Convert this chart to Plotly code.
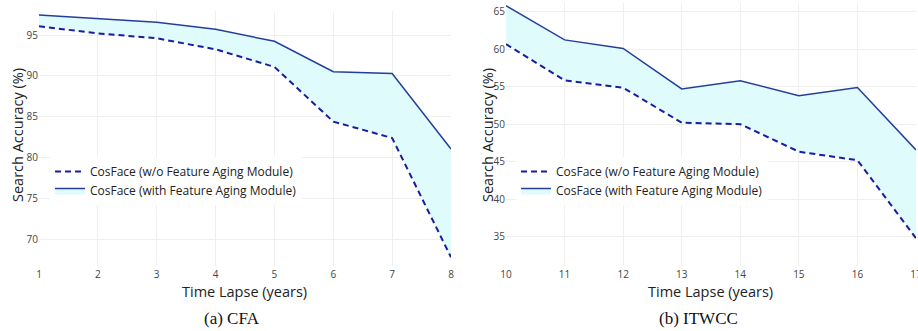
import plotly.graph_objects as go

# ---- data ----
cfa_years = [1, 2, 3, 4, 5, 6, 7, 8]
cfa_without = [96.07, 95.2, 94.6, 93.25, 91.1, 84.4, 82.4, 67.8]
cfa_with = [97.45, 96.96, 96.55, 95.7, 94.23, 90.5, 90.3, 81.05]

itwcc_years = [10, 11, 12, 13, 14, 15, 16, 17]
itwcc_without = [60.67, 55.85, 54.87, 50.2, 50.0, 46.33, 45.2, 34.8]
itwcc_with = [65.8, 61.24, 60.1, 54.7, 55.8, 53.8, 54.9, 46.57]

name_without = "CosFace (w/o Feature Aging Module)"
name_with = "CosFace (with Feature Aging Module)"
captions = ["(a) CFA", "(b) ITWCC"]
x_title = "Time Lapse (years)"
y_title = "Search Accuracy (%)"

DASH_COLOR = "#1b1ba4"
SOLID_COLOR = "#233f9c"
FILL_COLOR = "rgba(224,251,252,1)"

W, H = 918, 331
fig = go.Figure()

panels = [
    (cfa_years, cfa_without, cfa_with, "x", "y", "legend"),
    (itwcc_years, itwcc_without, itwcc_with, "x2", "y2", "legend2"),
]
for yrs, wo, wi, xa, ya, lg in panels:
    fig.add_trace(go.Scatter(x=yrs, y=wo, mode="lines", name=name_without,
                             line=dict(color=DASH_COLOR, width=2, dash="6px,4px"),
                             xaxis=xa, yaxis=ya, legend=lg))
    fig.add_trace(go.Scatter(x=yrs, y=wi, mode="lines", name=name_with,
                             line=dict(color=SOLID_COLOR, width=1.5),
                             fill="tonexty", fillcolor=FILL_COLOR,
                             xaxis=xa, yaxis=ya, legend=lg))

def px(x):
    return x / W

def py(y):
    return 1 - y / H

tick_font = dict(family="Open Sans, sans-serif", size=10, color="#444")
grid = "#efefef"

common_x = dict(showgrid=True, gridcolor=grid, zeroline=False, showline=False,
                ticks="", tickfont=tick_font, dtick=1, automargin=False,
                ticklabelstandoff=1, ticklabeloverflow="allow")
common_y = dict(showgrid=True, gridcolor=grid, zeroline=False, showline=False,
                ticks="", tickfont=tick_font, dtick=5, automargin=False)

legend_common = dict(xanchor="left", yanchor="top", bgcolor="white",
                     font=dict(size=12, color="#222"), traceorder="normal",
                     tracegroupgap=0)

fig.update_layout(
    width=W, height=H,
    margin=dict(l=0, r=0, t=0, b=0, autoexpand=False),
    paper_bgcolor="white", plot_bgcolor="white",
    font=dict(family="Open Sans, sans-serif", color="#444"),
    xaxis=dict(common_x, domain=[px(39), px(451)], range=[1, 8], anchor="y"),
    yaxis=dict(common_y, domain=[py(266), py(11)], range=[66.73, 97.94], anchor="x"),
    xaxis2=dict(common_x, domain=[px(506), px(916)], range=[10, 17], anchor="y2"),
    yaxis2=dict(common_y, domain=[py(266), py(3)], range=[31.09, 66.16], anchor="x2"),
    legend=dict(legend_common, x=px(50), y=py(157)),
    legend2=dict(legend_common, x=px(516), y=py(157)),
    showlegend=True,
)

annos = []
for cx in [245, 710]:
    annos.append(dict(x=px(cx), y=py(291), xref="paper", yref="paper",
                      xanchor="center", yanchor="middle",
                      text=x_title, showarrow=False,
                      font=dict(family="Open Sans, sans-serif", size=14.5, color="#222")))
for cx, cap in zip([232, 698], captions):
    annos.append(dict(x=px(cx), y=py(318), xref="paper", yref="paper",
                      xanchor="center", yanchor="middle",
                      text=cap, showarrow=False,
                      font=dict(family="Liberation Serif, Times New Roman, serif", size=17, color="#111")))
for cx, cy in [(17, 135), (487, 135)]:
    annos.append(dict(x=px(cx), y=py(cy), xref="paper", yref="paper",
                      xanchor="center", yanchor="middle",
                      text=y_title, showarrow=False, textangle=-90,
                      font=dict(family="Open Sans, sans-serif", size=14.5, color="#222")))
fig.update_layout(annotations=annos)

fig.write_html("out.html")
